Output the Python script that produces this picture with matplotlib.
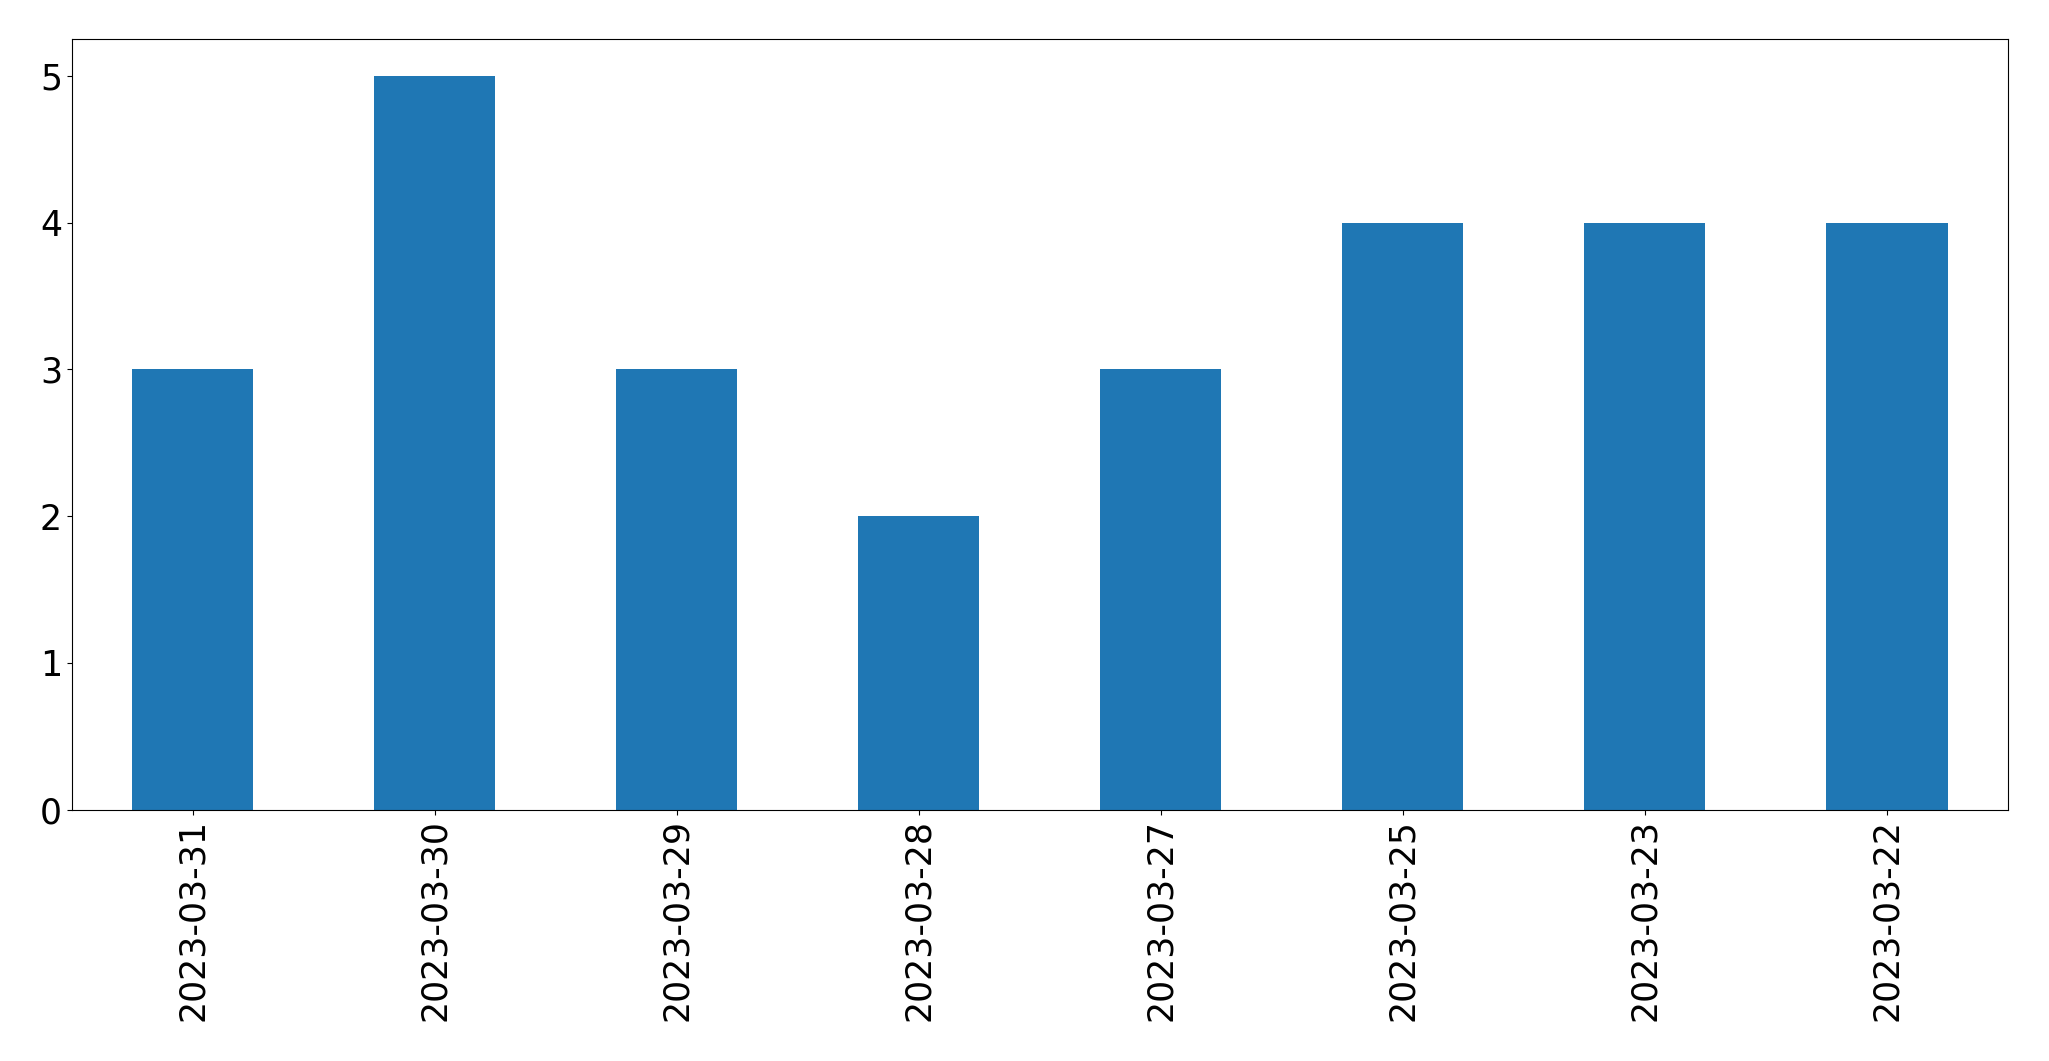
import pandas as pd
import matplotlib

matplotlib.use("Agg")
import matplotlib.pyplot as plt

dates = ["2023-03-31", "2023-03-30", "2023-03-29", "2023-03-28",
         "2023-03-27", "2023-03-25", "2023-03-23", "2023-03-22"]
counts = [3, 5, 3, 2, 3, 4, 4, 4]

s = pd.Series(counts, index=dates)

fig, ax = plt.subplots(figsize=(20.49, 10.61), dpi=100)
s.plot(kind="bar", ax=ax, color="#1f77b4", width=0.5)
ax.tick_params(axis="both", labelsize=25)
ax.set_yticks(range(6))
fig.subplots_adjust(left=0.035, right=0.98, top=0.963, bottom=0.237)
fig.savefig("out.png")
